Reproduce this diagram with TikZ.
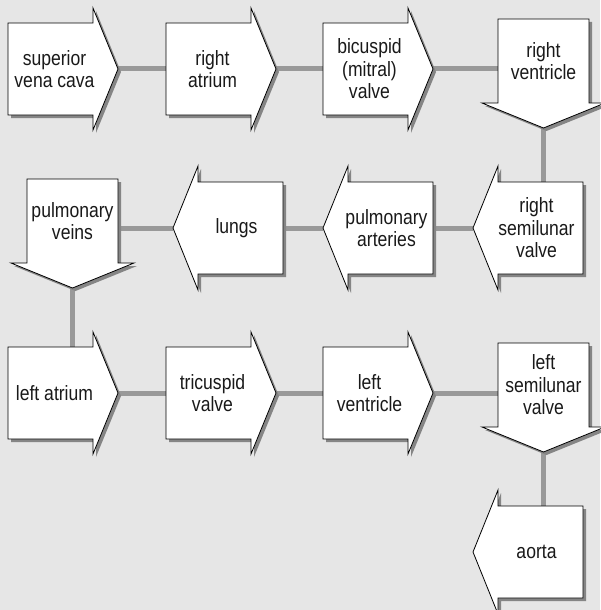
\documentclass[tikz,border=0pt]{standalone}
\usepackage{fontspec}
\setmainfont{Liberation Sans}[FakeStretch=0.85]
\definecolor{bgc}{HTML}{E6E6E6}
\definecolor{shc}{HTML}{858585}
\definecolor{lnc}{HTML}{999999}
\pgfdeclarelayer{bg}
\pgfsetlayers{bg,main}
\tikzset{
  arrowshape/.style={fill=white, draw=black, line width=0.6pt, line join=miter,
    preaction={fill=shc, transform canvas={shift={(3,3)}}}},
  lbl/.style={align=center, inner sep=0pt, text=black!90, font=\fontsize{15.5}{16.8}\selectfont},
  hbody/.style={inner sep=0pt, minimum width=63.75pt, minimum height=69pt},
  vbody/.style={inner sep=0pt, minimum width=68.25pt, minimum height=63pt},
  conn/.style={draw=lnc, line width=3.75pt},
  pics/rarr/.style={code={
    \path[arrowshape] (0,0) -- (85,0) -- (85,-15) -- (110,46) -- (85,107) -- (85,92) -- (0,92) -- cycle;
    \node[hbody] (-body) at (42.5,46) {};
    \coordinate (-tip) at (110,46);
    \node[lbl] (-txt) at (46.5,46) {#1};
  }},
  pics/larr/.style={code={
    \path[arrowshape] (85,0) -- (0,0) -- (0,-16) -- (-25,46) -- (0,108) -- (0,92) -- (85,92) -- cycle;
    \node[hbody] (-body) at (42.5,46) {};
    \coordinate (-tip) at (-25,46);
    \node[lbl] (-txt) at (38.5,46) {#1};
  }},
  pics/darr/.style={code={
    \path[arrowshape] (0,0) -- (91,0) -- (91,84) -- (107,84) -- (45.5,109) -- (-16,84) -- (0,84) -- cycle;
    \node[vbody] (-body) at (45.5,42) {};
    \coordinate (-tip) at (45.5,109);
    \node[lbl] (-txt) at (45.5,42) {#1};
  }},
}
\begin{document}
\begin{tikzpicture}[x=0.75pt, y=-0.75pt]
\useasboundingbox (0,0) rectangle (600,610);
% row 1
\pic (sv) at (8,23) {rarr={superior\\vena cava}};
\pic (ra) at (166,23) {rarr={right\\atrium}};
\pic (bi) at (323,23) {rarr={bicuspid\\(mitral)\\valve}};
\pic (rv) at (498,19) {darr={right\\ventricle}};
% row 2
\pic (rs) at (498,182) {larr={right\\semilunar\\valve}};
\pic (pa) at (348,182) {larr={pulmonary\\arteries}};
\pic (lu) at (198,182) {larr={lungs}};
\pic (pv) at (27,179) {darr={pulmonary\\veins}};
% row 3
\pic (la) at (8,347) {rarr={left atrium}};
\pic (tv) at (166,347) {rarr={tricuspid\\valve}};
\pic (lv) at (323,347) {rarr={left\\ventricle}};
\pic (ls) at (498,343) {darr={left\\semilunar\\valve}};
% row 4
\pic (ao) at (498,506) {larr={aorta}};
\begin{pgfonlayer}{bg}
  \fill[bgc] (0,0) rectangle (600,610);
  \draw[conn] (sv-tip) -- (ra-body.west);
  \draw[conn] (ra-tip) -- (bi-body.west);
  \draw[conn] (bi-tip) -- (bi-tip -| rv-body.west);
  \draw[conn] (rv-tip) -- (rv-tip |- rs-body.north);
  \draw[conn] (rs-tip) -- (rs-tip -| pa-body.east);
  \draw[conn] (pa-tip) -- (pa-tip -| lu-body.east);
  \draw[conn] (lu-tip) -- (lu-tip -| pv-body.east);
  \draw[conn] (pv-tip) -- (pv-tip |- la-body.north);
  \draw[conn] (la-tip) -- (tv-body.west);
  \draw[conn] (tv-tip) -- (lv-body.west);
  \draw[conn] (lv-tip) -- (lv-tip -| ls-body.west);
  \draw[conn] (ls-tip) -- (ls-tip |- ao-body.north);
\end{pgfonlayer}
\end{tikzpicture}
\end{document}
